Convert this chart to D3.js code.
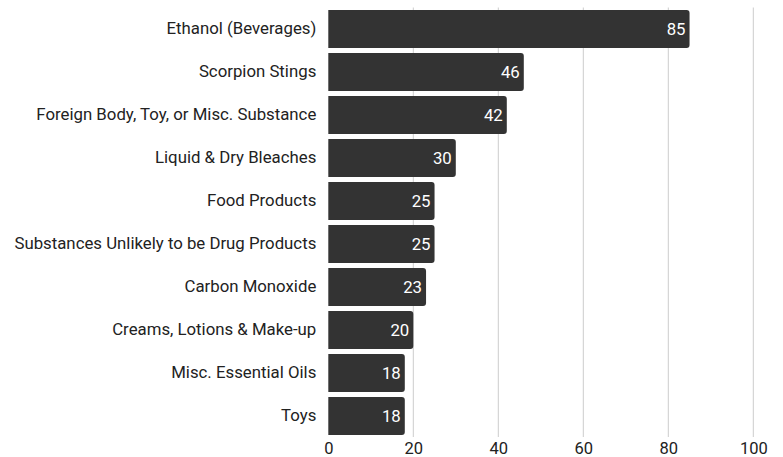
<!DOCTYPE html>
<html><head><meta charset="utf-8">
<script src="https://cdn.jsdelivr.net/npm/d3@7"></script>
<style>body{margin:0;background:#fff}svg{display:block;font-family:Roboto,sans-serif}</style>
</head><body><svg id="c" width="783" height="457"></svg>
<script>
const categories = ["Ethanol (Beverages)","Scorpion Stings","Foreign Body, Toy, or Misc. Substance","Liquid & Dry Bleaches","Food Products","Substances Unlikely to be Drug Products","Carbon Monoxide","Creams, Lotions & Make-up","Misc. Essential Oils","Toys"];
const values = [85,46,42,30,25,25,23,20,18,18];
const xTicks = [0,20,40,60,80,100];

const svg = d3.select("#c");
const x = d3.scaleLinear().domain([0,100]).range([328.3,753.3]);
const y = d3.scaleBand().domain(categories).range([7.5,437.5]).paddingInner(0.117).paddingOuter(0.058);

svg.append("g").selectAll("line").data(xTicks.filter(d=>d>0)).join("line")
  .attr("x1",d=>x(d)).attr("x2",d=>x(d)).attr("y1",y.range()[0]).attr("y2",437)
  .attr("stroke","#cccccc").attr("stroke-width",1);

const r = 3;
function barPath(x0,x1,y0,h){
  return `M${x0},${y0}H${x1-r}Q${x1},${y0} ${x1},${y0+r}V${y0+h-r}Q${x1},${y0+h} ${x1-r},${y0+h}H${x0}Z`;
}
const data = categories.map((c,i)=>({c,v:values[i]}));
svg.append("g").selectAll("path").data(data).join("path")
  .attr("d",d=>barPath(x(0),x(d.v),y(d.c),y.bandwidth()))
  .attr("fill","#333333");

svg.append("g").selectAll("text").data(data).join("text")
  .attr("x",d=>x(d.v)-4).attr("y",d=>y(d.c)+y.bandwidth()/2)
  .attr("dy","0.35em").attr("text-anchor","end").attr("fill","#ffffff")
  .attr("font-size",16.8).text(d=>d.v);

const yAxis = svg.append("g").attr("transform",`translate(${x(0)},0)`)
  .call(d3.axisLeft(y).tickSize(0).tickPadding(12));
yAxis.select(".domain").remove();
yAxis.selectAll("text").attr("font-size",16.8).attr("fill","#222").attr("font-family","Roboto,sans-serif");

const xAxis = svg.append("g").attr("transform",`translate(0,437)`)
  .call(d3.axisBottom(x).tickValues(xTicks).tickSize(0).tickPadding(5));
xAxis.select(".domain").remove();
xAxis.selectAll("text").attr("font-size",16.5).attr("fill","#222").attr("font-family","Roboto,sans-serif");
</script></body></html>
